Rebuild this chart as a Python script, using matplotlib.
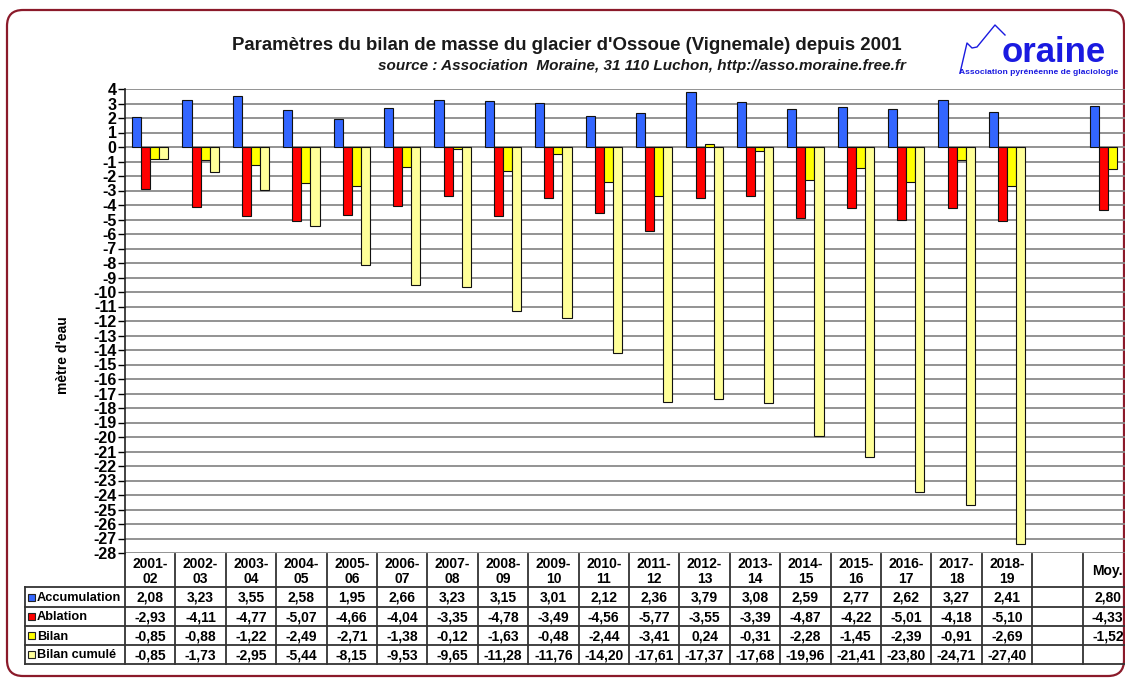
import numpy as np
import matplotlib
matplotlib.use("Agg")
import matplotlib.pyplot as plt
from matplotlib.patches import FancyBboxPatch, Rectangle
from matplotlib.transforms import blended_transform_factory

plt.rcParams['font.family'] = ['Liberation Sans', 'DejaVu Sans']
plt.rcParams['axes.unicode_minus'] = False

# ---------------- data ----------------
seasons = ["2001-02", "2002-03", "2003-04", "2004-05", "2005-06", "2006-07",
           "2007-08", "2008-09", "2009-10", "2010-11", "2011-12", "2012-13",
           "2013-14", "2014-15", "2015-16", "2016-17", "2017-18", "2018-19"]
accumulation = [2.08, 3.23, 3.55, 2.58, 1.95, 2.66, 3.23, 3.15, 3.01, 2.12,
                2.36, 3.79, 3.08, 2.59, 2.77, 2.62, 3.27, 2.41]
ablation = [-2.93, -4.11, -4.77, -5.07, -4.66, -4.04, -3.35, -4.78, -3.49, -4.56,
            -5.77, -3.55, -3.39, -4.87, -4.22, -5.01, -4.18, -5.10]
bilan = [-0.85, -0.88, -1.22, -2.49, -2.71, -1.38, -0.12, -1.63, -0.48, -2.44,
         -3.41, 0.24, -0.31, -2.28, -1.45, -2.39, -0.91, -2.69]
bilan_cumule = [-0.85, -1.73, -2.95, -5.44, -8.15, -9.53, -9.65, -11.28, -11.76, -14.20,
                -17.61, -17.37, -17.68, -19.96, -21.41, -23.80, -24.71, -27.40]
moy_label = "Moy."
moy_accumulation = 2.80
moy_ablation = -4.33
moy_bilan = -1.52

series_names = ["Accumulation", "Ablation", "Bilan", "Bilan cumulé"]
series_colors = ["#3366FF", "#FF0000", "#FFFF00", "#FFFF99"]

y_min, y_max = -28, 4

# ------------- build columns (seasons, blank, mean) -------------
nan = np.nan
columns = seasons + ["", moy_label]
series_vals = [
    accumulation + [nan, moy_accumulation],
    ablation + [nan, moy_ablation],
    bilan + [nan, moy_bilan],
    bilan_cumule + [nan, nan],
]
ncol = len(columns)
x = np.arange(ncol)

# ---------------- figure ----------------
W, H = 1125, 678
fig = plt.figure(figsize=(W / 100, H / 100), dpi=100)

# pixel overlay axes
over = fig.add_axes([0, 0, 1, 1], zorder=0)
over.set_xlim(0, W)
over.set_ylim(H, 0)
over.axis('off')
over.patch.set_alpha(0)

frame = FancyBboxPatch((7, 10), 1117, 666, boxstyle="round,pad=0,rounding_size=16",
                       linewidth=1.6, edgecolor="#8B1A2A", facecolor="white")
over.add_patch(frame)

# main axes geometry (pixels)
ax_left, ax_top, ax_bottom = 125, 89, 553
col_w = 50.4
ax_right = ax_left + ncol * col_w
ax = fig.add_axes([ax_left / W, 1 - ax_bottom / H, (ax_right - ax_left) / W,
                   (ax_bottom - ax_top) / H], zorder=2)
ax.patch.set_alpha(0)
ax.set_xlim(-0.5, ncol - 0.5)
ax.set_ylim(y_min, y_max)

bw = 0.18
offsets = [-1.5 * bw, -0.5 * bw, 0.5 * bw, 1.5 * bw]
for vals, col, off in zip(series_vals, series_colors, offsets):
    v = np.array(vals, dtype=float)
    m = ~np.isnan(v)
    ax.bar(x[m] + off, v[m], width=bw, color=col, edgecolor="#111111",
           linewidth=0.8, zorder=3)

ax.set_yticks(np.arange(y_min, y_max + 1, 1))
ax.set_yticklabels([str(t) for t in range(y_min, y_max + 1)],
                   fontsize=11.5, fontweight='bold')
ax.yaxis.grid(True, color="#8a8a8a", linewidth=1.3, zorder=0)
ax.set_axisbelow(True)
ax.tick_params(axis='y', length=5, width=1, direction='out', pad=1)
ax.tick_params(axis='x', bottom=False, labelbottom=False)
for s in ['top', 'right', 'bottom']:
    ax.spines[s].set_visible(False)
ax.spines['left'].set_linewidth(1.2)
ax.spines['left'].set_color("#222222")
ax.set_ylabel("mètre d'eau", fontsize=10, fontweight='bold')
ax.yaxis.set_label_coords(63, 355, transform=over.transData)
ax.yaxis.label.set_va('center')

# ---------------- data table ----------------
tr = blended_transform_factory(ax.transData, over.transData)
label_left = -0.5 - (ax_left - 25) / col_w
tbl_top, hdr_bot = 554, 587
row_edges = [587, 607, 626, 645, 664]
lc = "#333333"
lw = 1.3
for k in range(ncol + 1):
    over.plot([k - 0.5, k - 0.5], [tbl_top, row_edges[-1]], color=lc, lw=lw,
              transform=tr, clip_on=False, zorder=5)
over.plot([label_left, label_left], [hdr_bot, row_edges[-1]], color=lc, lw=lw,
          transform=tr, clip_on=False, zorder=5)
for yy in row_edges:
    over.plot([label_left, ncol - 0.5], [yy, yy], color=lc, lw=lw,
              transform=tr, clip_on=False, zorder=5)

for i, c in enumerate(columns):
    if not c:
        continue
    if "-" in c:
        a, b = c.split("-")
        txt = f"{a}-\n{b}"
    else:
        txt = c
    over.text(i, (tbl_top + hdr_bot) / 2 + 1, txt, transform=tr, ha='center',
              va='center', fontsize=10, fontweight='bold', linespacing=1.05,
              zorder=6, clip_on=False)

for r, (name, col, vals) in enumerate(zip(series_names, series_colors, series_vals)):
    yc = (row_edges[r] + row_edges[r + 1]) / 2
    over.add_patch(Rectangle((28, yc - 3.5), 7, 7, facecolor=col, edgecolor="#222222",
                             lw=0.8, zorder=6))
    over.text(37, yc - 0.5, name, ha='left', va='center_baseline', fontsize=9.2,
              fontweight='bold', zorder=6)
    for i, v in enumerate(vals):
        if np.isnan(v):
            continue
        s = f"{v:.2f}".replace(".", ",")
        over.text(i, yc - 0.5, s, transform=tr, ha='center', va='center_baseline',
                  fontsize=10, fontweight='bold', zorder=6, clip_on=False)

# ---------------- titles ----------------
over.text(567, 45, "Paramètres du bilan de masse du glacier d'Ossoue (Vignemale) depuis 2001",
          ha='center', va='center', fontsize=13.4, fontweight='bold', color="#1a1a1a")
over.text(906, 66, "source : Association  Moraine, 31 110 Luchon, http://asso.moraine.free.fr",
          ha='right', va='center', fontsize=11, fontweight='bold', style='italic',
          color="#1a1a1a")

# ---------------- logo ----------------
logo_blue = "#1a1aE0"
over.plot([960, 967, 972, 977, 995, 1005], [73, 43, 48, 47, 25, 35], color=logo_blue, lw=1.0)
over.text(1054, 62, "oraine", ha='center', va='baseline', fontsize=25,
          fontweight='bold', color=logo_blue)
over.text(1039, 73, "Association pyrénéenne de glaciologie", ha='center', va='center',
          fontsize=6.1, fontweight='bold', color=logo_blue)

fig.savefig("out.png", dpi=100)
